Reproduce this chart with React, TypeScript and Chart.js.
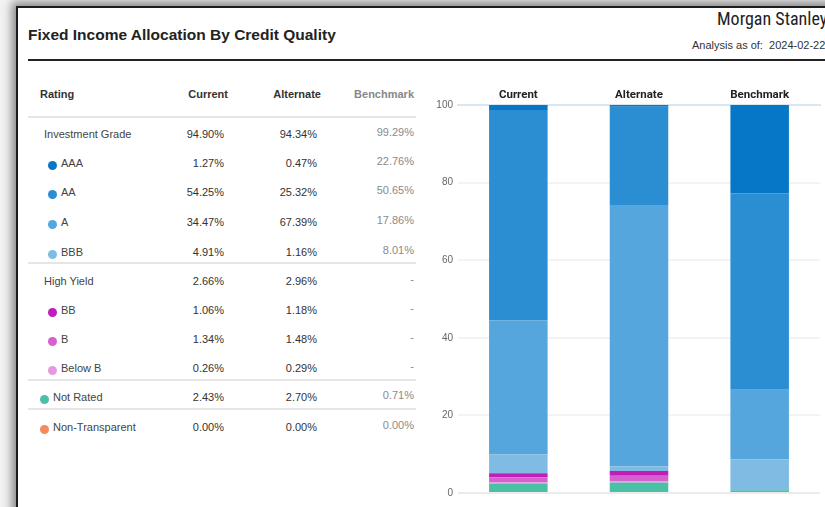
import React, { useEffect, useRef } from "react";
import { Chart, registerables } from "chart.js";

Chart.register(...registerables);

// ---- data ----
const categories = ["Current", "Alternate", "Benchmark"];
const ratingNames = ["AAA", "AA", "A", "BBB", "BB", "B", "Below B", "Not Rated", "Non-Transparent"];
const currentValues = [1.27, 54.25, 34.47, 4.91, 1.06, 1.34, 0.26, 2.43, 0.0];
const alternateValues = [0.47, 25.32, 67.39, 1.16, 1.18, 1.48, 0.29, 2.7, 0.0];
const benchmarkValues: (number | null)[] = [22.76, 50.65, 17.86, 8.01, null, null, null, 0.71, 0.0];
const ratingColors = ["#0677c7", "#2b8ed3", "#55a6dc", "#80bbe3", "#c21cbb", "#d660cd", "#e39ae0", "#4cbfa7", "#f58a5e"];
const groupNames = ["Investment Grade", "High Yield"];
const groupCurrent = [94.9, 2.66];
const groupAlternate = [94.34, 2.96];
const groupBenchmark: (number | null)[] = [99.29, null];
const yTicks = [0, 20, 40, 60, 80, 100];

const FONT = "'Liberation Sans', Arial, sans-serif";
const fmt = (v: number | null) => (v === null ? "-" : v.toFixed(2) + "%");

type Row =
  | { kind: "group"; idx: number; y: number }
  | { kind: "sub"; idx: number; y: number }
  | { kind: "solo"; idx: number; y: number };

const rows: Row[] = [
  { kind: "group", idx: 0, y: 134 },
  { kind: "sub", idx: 0, y: 163 },
  { kind: "sub", idx: 1, y: 192 },
  { kind: "sub", idx: 2, y: 222 },
  { kind: "sub", idx: 3, y: 252 },
  { kind: "group", idx: 1, y: 281 },
  { kind: "sub", idx: 4, y: 310 },
  { kind: "sub", idx: 5, y: 339 },
  { kind: "sub", idx: 6, y: 368 },
  { kind: "solo", idx: 7, y: 397 },
  { kind: "solo", idx: 8, y: 427 },
];
const dividers = [117, 263, 380, 409];

function Txt(props: {
  x?: number;
  right?: number;
  y: number;
  size?: number;
  bold?: boolean;
  color?: string;
  family?: string;
  spacing?: number;
  children: React.ReactNode;
}) {
  const size = props.size ?? 11;
  const lh = 16;
  const style: React.CSSProperties = {
    position: "absolute",
    top: props.y - lh / 2,
    lineHeight: lh + "px",
    fontSize: size,
    fontFamily: props.family ?? FONT,
    fontWeight: props.bold ? "bold" : "normal",
    color: props.color ?? "#333",
    whiteSpace: "nowrap",
    letterSpacing: props.spacing ?? 0,
  };
  if (props.right !== undefined) {
    style.left = props.right - 300;
    style.width = 300;
    style.textAlign = "right";
  } else {
    style.left = props.x;
  }
  return <div style={style}>{props.children}</div>;
}

function Dot({ x, y, color }: { x: number; y: number; color: string }) {
  return (
    <div
      style={{
        position: "absolute",
        left: x - 4.5,
        top: y - 4.5,
        width: 9,
        height: 9,
        borderRadius: 4.5,
        background: color,
      }}
    />
  );
}

function StackChart() {
  const ref = useRef<HTMLCanvasElement>(null);
  useEffect(() => {
    if (!ref.current) return;
    const order = ratingNames.map((_, i) => i).reverse();
    const datasets = order.map((i) => ({
      label: ratingNames[i],
      data: [currentValues[i], alternateValues[i], benchmarkValues[i] ?? 0],
      backgroundColor: ratingColors[i],
      borderWidth: 0,
      barPercentage: 0.485,
      categoryPercentage: 1,
    }));
    const chart = new Chart(ref.current, {
      type: "bar",
      data: { labels: categories, datasets },
      options: {
        animation: false,
        responsive: false,
        maintainAspectRatio: false,
        layout: { padding: { left: 0, right: 5, top: 0, bottom: 14 } },
        plugins: { legend: { display: false }, tooltip: { enabled: false } },
        scales: {
          x: {
            stacked: true,
            position: "top",
            grid: { display: false, drawTicks: false },
            border: { display: true, color: "#dbe6f3", width: 2 },
            ticks: {
              padding: 3,
              color: "#222",
              font: { family: "Roboto", size: 11.5, weight: "bold" },
            },
            afterFit: (s: any) => {
              s.height = 25;
            },
          },
          y: {
            stacked: true,
            min: 0,
            max: 100,
            afterBuildTicks: (s: any) => {
              s.ticks = yTicks.map((v) => ({ value: v }));
            },
            grid: {
              drawTicks: false,
              color: (c: any) => (c.tick && c.tick.value === 0 ? "#ebebeb" : "#f3f3f3"),
              lineWidth: 2,
            },
            border: { display: false },
            ticks: {
              padding: 5,
              color: "#666",
              font: { family: FONT, size: 10 },
            },
            afterFit: (s: any) => {
              s.width = 33;
            },
          },
        },
      },
    });
    return () => chart.destroy();
  }, []);
  return (
    <canvas
      ref={ref}
      width={400}
      height={427}
      style={{ position: "absolute", left: 425, top: 80, width: 400, height: 427 }}
    />
  );
}

export default function App() {
  useEffect(() => {
    document.body.style.margin = "0";
  }, []);
  return (
    <div
      style={{
        position: "absolute",
        left: 0,
        top: 0,
        width: 825,
        height: 507,
        overflow: "hidden",
        background: "#f2f2f2",
      }}
    >
      <div
        style={{
          position: "absolute",
          left: 16,
          top: 6,
          width: 900,
          height: 600,
          background: "#fff",
          borderLeft: "2px solid #1c1c1c",
          borderTop: "2px solid #1c1c1c",
          boxShadow: "0 0 9px 4px rgba(0,0,0,0.45)",
        }}
      />
      {/* header */}
      <Txt x={28} y={35} size={15.5} bold color="#222">
        Fixed Income Allocation By Credit Quality
      </Txt>
      <Txt x={717} y={19} size={18} color="#222" spacing={0} family="'Roboto Condensed', 'Liberation Sans Narrow', Roboto, Arial, sans-serif">
        Morgan Stanley
      </Txt>
      <Txt x={692} y={45} size={11} color="#333">
        Analysis as of:&nbsp; 2024-02-22
      </Txt>
      <div style={{ position: "absolute", left: 28, top: 59, width: 800, height: 2, background: "#222" }} />

      {/* table header */}
      <Txt x={40} y={94} bold color="#333">Rating</Txt>
      <Txt right={228} y={94} bold color="#333">Current</Txt>
      <Txt right={321} y={94} bold color="#333">Alternate</Txt>
      <Txt right={414} y={94} bold color="#888">Benchmark</Txt>

      {dividers.map((y) => (
        <div key={y} style={{ position: "absolute", left: 28, top: y - 1, width: 388, height: 2, background: "#e6e6e6" }} />
      ))}

      {rows.map((r, k) => {
        if (r.kind === "group") {
          return (
            <React.Fragment key={k}>
              <Txt x={44} y={r.y} color="#444">{groupNames[r.idx]}</Txt>
              <Txt right={224} y={r.y}>{fmt(groupCurrent[r.idx])}</Txt>
              <Txt right={317} y={r.y}>{fmt(groupAlternate[r.idx])}</Txt>
              <Txt right={414} y={r.y - 2} color="#8a8a8a">{fmt(groupBenchmark[r.idx])}</Txt>
            </React.Fragment>
          );
        }
        const dx = r.kind === "sub" ? 52 : 44;
        return (
          <React.Fragment key={k}>
            <Dot x={dx} y={r.y + 2} color={ratingColors[r.idx]} />
            <Txt x={dx + 9} y={r.y} color="#444">{ratingNames[r.idx]}</Txt>
            <Txt right={224} y={r.y}>{fmt(currentValues[r.idx])}</Txt>
            <Txt right={317} y={r.y}>{fmt(alternateValues[r.idx])}</Txt>
            <Txt right={414} y={r.y - 2} color="#8a8a8a">{fmt(benchmarkValues[r.idx])}</Txt>
          </React.Fragment>
        );
      })}

      <StackChart />
    </div>
  );
}
